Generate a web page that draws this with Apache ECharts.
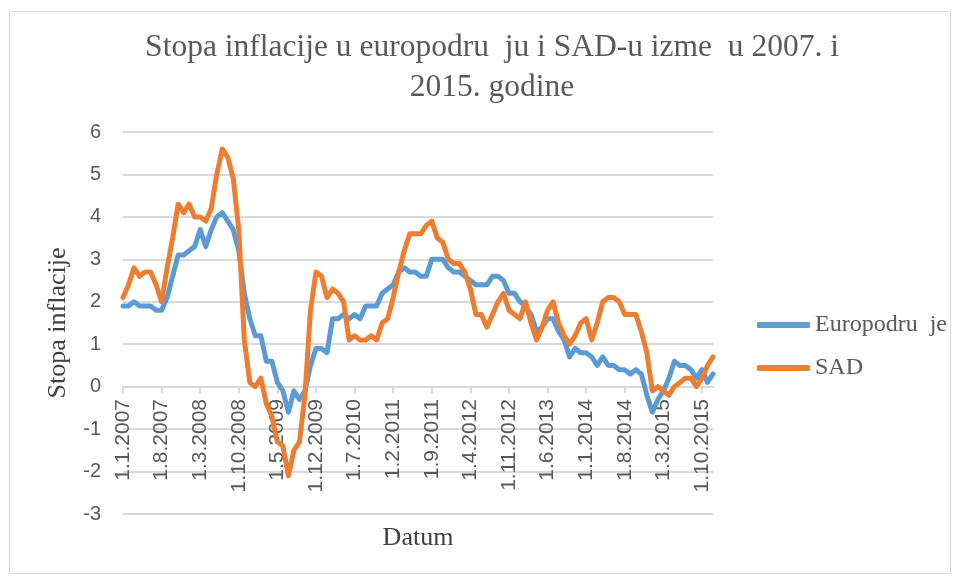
<!DOCTYPE html>
<html>
<head>
<meta charset="utf-8">
<script src="https://cdn.jsdelivr.net/npm/echarts@6/dist/echarts.min.js"></script>
<style>html,body{margin:0;padding:0;background:#fff}#c{width:956px;height:578px}</style>
</head>
<body>
<div id="c"></div>
<script>
// Categories: monthly, 1.1.2007 .. 1.12.2015
var years = [2007, 2008, 2009, 2010, 2011, 2012, 2013, 2014, 2015];
var categories = [];
years.forEach(function (y) { for (var m = 1; m <= 12; m++) categories.push('1.' + m + '.' + y); });

var seriesNames = ['Europodru  je', 'SAD'];

var europodrucje = [
  1.9, 1.9, 2.0, 1.9, 1.9, 1.9, 1.8, 1.8, 2.1, 2.6, 3.1, 3.1,
  3.2, 3.3, 3.7, 3.3, 3.7, 4.0, 4.1, 3.9, 3.7, 3.2, 2.2, 1.6,
  1.2, 1.2, 0.6, 0.6, 0.1, -0.1, -0.6, -0.1, -0.3, -0.1, 0.5, 0.9,
  0.9, 0.8, 1.6, 1.6, 1.7, 1.6, 1.7, 1.6, 1.9, 1.9, 1.9, 2.2,
  2.3, 2.4, 2.7, 2.8, 2.7, 2.7, 2.6, 2.6, 3.0, 3.0, 3.0, 2.8,
  2.7, 2.7, 2.6, 2.5, 2.4, 2.4, 2.4, 2.6, 2.6, 2.5, 2.2, 2.2,
  2.0, 1.9, 1.7, 1.3, 1.4, 1.6, 1.6, 1.3, 1.1, 0.7, 0.9, 0.8,
  0.8, 0.7, 0.5, 0.7, 0.5, 0.5, 0.4, 0.4, 0.3, 0.4, 0.3, -0.2,
  -0.6, -0.3, -0.1, 0.2, 0.6, 0.5, 0.5, 0.4, 0.2, 0.4, 0.1, 0.3
];

var sad = [
  2.1, 2.4, 2.8, 2.6, 2.7, 2.7, 2.4, 2.0, 2.8, 3.5, 4.3, 4.1,
  4.3, 4.0, 4.0, 3.9, 4.2, 5.0, 5.6, 5.4, 4.9, 3.7, 1.1, 0.1,
  0.0, 0.2, -0.4, -0.7, -1.3, -1.4, -2.1, -1.5, -1.3, -0.2, 1.8, 2.7,
  2.6, 2.1, 2.3, 2.2, 2.0, 1.1, 1.2, 1.1, 1.1, 1.2, 1.1, 1.5,
  1.6, 2.1, 2.7, 3.2, 3.6, 3.6, 3.6, 3.8, 3.9, 3.5, 3.4, 3.0,
  2.9, 2.9, 2.7, 2.3, 1.7, 1.7, 1.4, 1.7, 2.0, 2.2, 1.8, 1.7,
  1.6, 2.0, 1.5, 1.1, 1.4, 1.8, 2.0, 1.5, 1.2, 1.0, 1.2, 1.5,
  1.6, 1.1, 1.5, 2.0, 2.1, 2.1, 2.0, 1.7, 1.7, 1.7, 1.3, 0.8,
  -0.1, 0.0, -0.1, -0.2, 0.0, 0.1, 0.2, 0.2, 0.0, 0.2, 0.5, 0.7
];

var titleText = 'Stopa inflacije u europodru  ju i SAD-u izme  u 2007. i\n2015. godine';
var yAxisName = 'Stopa inflacije';
var xAxisName = 'Datum';

var chart = echarts.init(document.getElementById('c'), null, { renderer: 'canvas' });
var serif = '"Liberation Serif", "Times New Roman", serif';
var sans = '"Liberation Sans", Arial, sans-serif';

chart.setOption({
  animation: false,
  backgroundColor: '#ffffff',
  graphic: [{
    type: 'rect', left: 7, top: 9, shape: { width: 941, height: 562 },
    style: { fill: 'none', stroke: '#d9d9d9', lineWidth: 1 }, silent: true, z: -1
  }],
  title: {
    text: titleText,
    left: 487, top: 23, textAlign: 'center',
    textStyle: { fontFamily: serif, fontSize: 31.5, fontWeight: 'normal', color: '#595959', lineHeight: 40 }
  },
  legend: {
    orient: 'vertical', left: 752, top: 308,
    itemWidth: 53, itemHeight: 6, itemGap: 19,
    icon: 'roundRect',
    data: seriesNames,
    textStyle: { fontFamily: serif, fontSize: 24, color: '#595959', lineHeight: 24 }
  },
  grid: { left: 123, right: 243, top: 132, bottom: 64, containLabel: false, outerBoundsMode: 'none' },
  xAxis: {
    type: 'category', data: categories, boundaryGap: false,
    position: 'bottom', offset: -127,
    name: xAxisName, nameLocation: 'middle', nameGap: 138,
    nameTextStyle: { fontFamily: serif, fontSize: 26, color: '#404040' },
    axisLine: { onZero: false, lineStyle: { color: '#d9d9d9', width: 2 } },
    axisTick: { show: true, interval: 6, length: 6, lineStyle: { color: '#d9d9d9', width: 2 } },
    axisLabel: { interval: 6, rotate: 90, margin: 12, fontFamily: sans, fontSize: 21, color: '#595959' },
    splitLine: { show: false }
  },
  yAxis: {
    type: 'value', min: -3, max: 6, interval: 1,
    name: yAxisName, nameLocation: 'middle', nameGap: 52,
    nameTextStyle: { fontFamily: serif, fontSize: 26, color: '#404040' },
    axisLine: { show: false }, axisTick: { show: false },
    axisLabel: { margin: 22, fontFamily: sans, fontSize: 20, color: '#595959' },
    splitLine: { lineStyle: { color: '#d9d9d9', width: 2 } }
  },
  series: [
    { name: seriesNames[0], type: 'line', data: europodrucje, showSymbol: false, symbol: 'none',
      itemStyle: { color: '#5b9bd5' },
      lineStyle: { color: '#5b9bd5', width: 5, cap: 'round', join: 'round' } },
    { name: seriesNames[1], type: 'line', data: sad, showSymbol: false, symbol: 'none',
      itemStyle: { color: '#ed7d31' },
      lineStyle: { color: '#ed7d31', width: 5, cap: 'round', join: 'round' } }
  ]
});
</script>
</body>
</html>
